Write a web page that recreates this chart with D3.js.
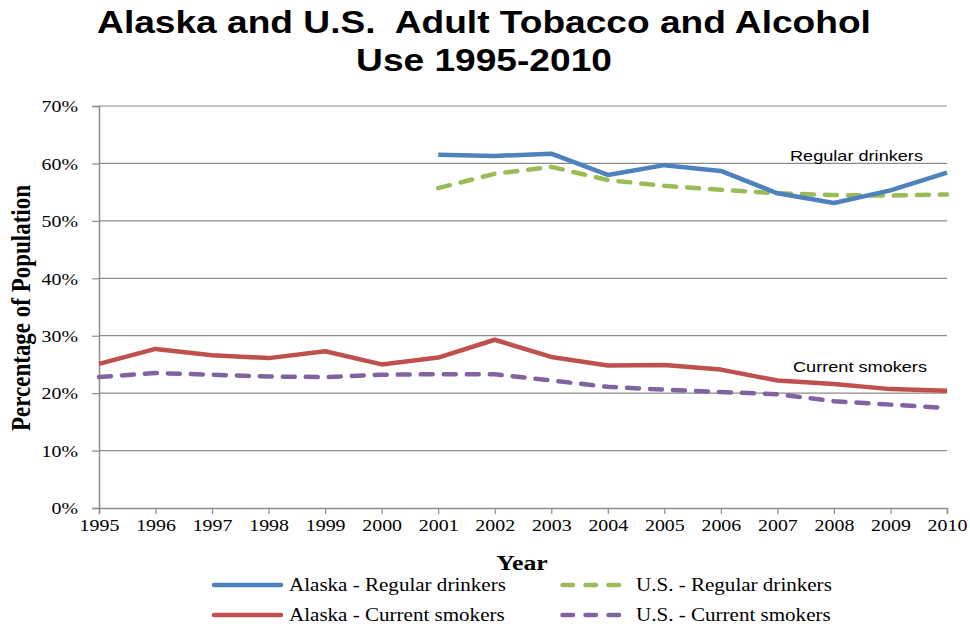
<!DOCTYPE html>
<html>
<head>
<meta charset="utf-8">
<script src="https://cdn.jsdelivr.net/npm/d3@7"></script>
<style>
  html, body { margin: 0; padding: 0; background: #fff; }
  svg { display: block; }
</style>
</head>
<body>
<svg id="chart" width="970" height="629"></svg>
<script>
// Survey years on the x axis
const years = [1995, 1996, 1997, 1998, 1999, 2000, 2001, 2002, 2003, 2004, 2005, 2006, 2007, 2008, 2009, 2010];

// Percent of adults (null = not surveyed)
const akDrinkers = [null, null, null, null, null, null, 61.5, 61.3, 61.7, 58.0, 59.7, 58.7, 54.8, 53.1, 55.3, 58.4];
const usDrinkers = [null, null, null, null, null, null, 55.7, 58.2, 59.4, 57.1, 56.1, 55.4, 54.8, 54.5, 54.4, 54.6];
const akSmokers = [25.1, 27.7, 26.6, 26.1, 27.3, 25.0, 26.2, 29.3, 26.3, 24.8, 24.9, 24.1, 22.2, 21.6, 20.7, 20.4];
const usSmokers = [22.8, 23.5, 23.2, 22.9, 22.8, 23.2, 23.3, 23.3, 22.2, 21.1, 20.6, 20.2, 19.8, 18.6, 18.0, 17.4];

const yTicks = [0, 10, 20, 30, 40, 50, 60, 70];

const seriesNames = ["Alaska - Regular drinkers", "U.S. - Regular drinkers", "Alaska - Current smokers", "U.S. - Current smokers"];
const seriesValues = [akDrinkers, usDrinkers, akSmokers, usSmokers];
const seriesColors = ["#4F81BD", "#9BBB59", "#C0504D", "#8064A2"];
const seriesDashed = [false, true, false, true];

const svg = d3.select("#chart");
const frame = { left: 99, right: 947, top: 106, bottom: 508 };

const x = d3.scaleLinear().domain([1995, 2010]).range([frame.left, frame.right]);
const y = d3.scaleLinear().domain([0, 70]).range([frame.bottom, frame.top]);

const serif = "'Liberation Serif', 'Times New Roman', serif";
const sans = "'Liberation Sans', Arial, sans-serif";
const WIDE = 1.17;   // text is set slightly wide
const DASH = "12,11";

// Text drawn at (tx, ty) with a horizontal widening
function wideText(parent, tx, ty, str, opts) {
  return parent.append("text")
    .attr("transform", `translate(${tx},${ty}) scale(${opts.sx || WIDE},1)`)
    .attr("text-anchor", opts.anchor || "start")
    .style("font-family", opts.family)
    .style("font-weight", opts.weight || "normal")
    .style("font-size", opts.size)
    .style("white-space", "pre")
    .attr("fill", "#000")
    .text(str);
}

// Title
wideText(svg, 484, 33, "Alaska and U.S.  Adult Tobacco and Alcohol", { family: sans, weight: "bold", size: "32px", anchor: "middle", sx: 1.16 });
wideText(svg, 484, 71, "Use 1995-2010", { family: sans, weight: "bold", size: "32px", anchor: "middle", sx: 1.16 });

// Horizontal gridlines
svg.append("g")
  .selectAll("line")
  .data(yTicks.filter(d => d > 0))
  .join("line")
  .attr("x1", frame.left).attr("x2", frame.right)
  .attr("y1", d => y(d)).attr("y2", d => y(d))
  .attr("stroke", "#8c8c8c").attr("stroke-width", 1.2);

// Y axis
const yAxis = svg.append("g")
  .attr("transform", `translate(${frame.left},0)`)
  .call(d3.axisLeft(y).tickValues(yTicks).tickSize(7).tickFormat(d => d + "%"));
yAxis.select(".domain").attr("stroke", "#8c8c8c").attr("stroke-width", 1.5);
yAxis.selectAll(".tick line").attr("stroke", "#8c8c8c").attr("stroke-width", 1.2);
yAxis.selectAll(".tick text")
  .attr("x", 0).attr("dy", "0.34em")
  .attr("transform", `translate(-21,0) scale(${WIDE},1)`)
  .style("font-family", serif).style("font-size", "17px").attr("fill", "#000");

// X axis
const xAxis = svg.append("g")
  .attr("transform", `translate(0,${frame.bottom})`)
  .call(d3.axisBottom(x).tickValues(years).tickSize(6).tickPadding(5).tickFormat(d3.format("d")));
xAxis.select(".domain").attr("stroke", "#8c8c8c").attr("stroke-width", 1.5);
xAxis.selectAll(".tick line").attr("stroke", "#8c8c8c").attr("stroke-width", 1.2);
xAxis.selectAll(".tick text")
  .attr("transform", `scale(${WIDE},1)`)
  .style("font-family", serif).style("font-size", "17px").attr("fill", "#000");

// Axis titles
wideText(svg, 522, 570, "Year", { family: serif, weight: "bold", size: "22px", anchor: "middle" });
svg.append("text")
  .attr("transform", `translate(30,308) rotate(-90) scale(1,${WIDE})`)
  .attr("text-anchor", "middle")
  .style("font-family", serif).style("font-weight", "bold").style("font-size", "23px")
  .text("Percentage of Population");

// Series lines
const line = d3.line()
  .defined(d => d.v !== null)
  .x(d => x(d.year))
  .y(d => y(d.v));

[2, 3, 1, 0].forEach(i => {
  const pts = years.map((yr, k) => ({ year: yr, v: seriesValues[i][k] }));
  svg.append("path")
    .datum(pts)
    .attr("d", line)
    .attr("fill", "none")
    .attr("stroke", seriesColors[i])
    .attr("stroke-width", 4.5)
    .attr("stroke-linejoin", "round")
    .attr("stroke-linecap", seriesDashed[i] ? "round" : "butt")
    .attr("stroke-dasharray", seriesDashed[i] ? DASH : null);
});

// Group labels
wideText(svg, 790, 161, "Regular drinkers", { family: sans, size: "15.5px" });
wideText(svg, 793, 372, "Current smokers", { family: sans, size: "15.5px" });

// Legend
const legendPos = [
  { x: 212, y: 585 }, { x: 560, y: 585 },
  { x: 212, y: 615 }, { x: 560, y: 615 }
];
const legend = svg.append("g");
seriesNames.forEach((name, i) => {
  const p = legendPos[i];
  const g = legend.append("g").attr("transform", `translate(${p.x},${p.y})`);
  if (seriesDashed[i]) {
    g.append("line")
      .attr("x1", 2.5).attr("x2", 59).attr("y1", 0).attr("y2", 0)
      .attr("stroke", seriesColors[i]).attr("stroke-width", 4.5)
      .attr("stroke-linecap", "round").attr("stroke-dasharray", "10.5,12.5");
  } else {
    g.append("line")
      .attr("x1", 2).attr("x2", 69).attr("y1", 0).attr("y2", 0)
      .attr("stroke", seriesColors[i]).attr("stroke-width", 4.5)
      .attr("stroke-linecap", "round");
  }
  wideText(g, p.x === 212 ? 77 : 76, 6, name, { family: serif, size: "18px" });
});
</script>
</body>
</html>
